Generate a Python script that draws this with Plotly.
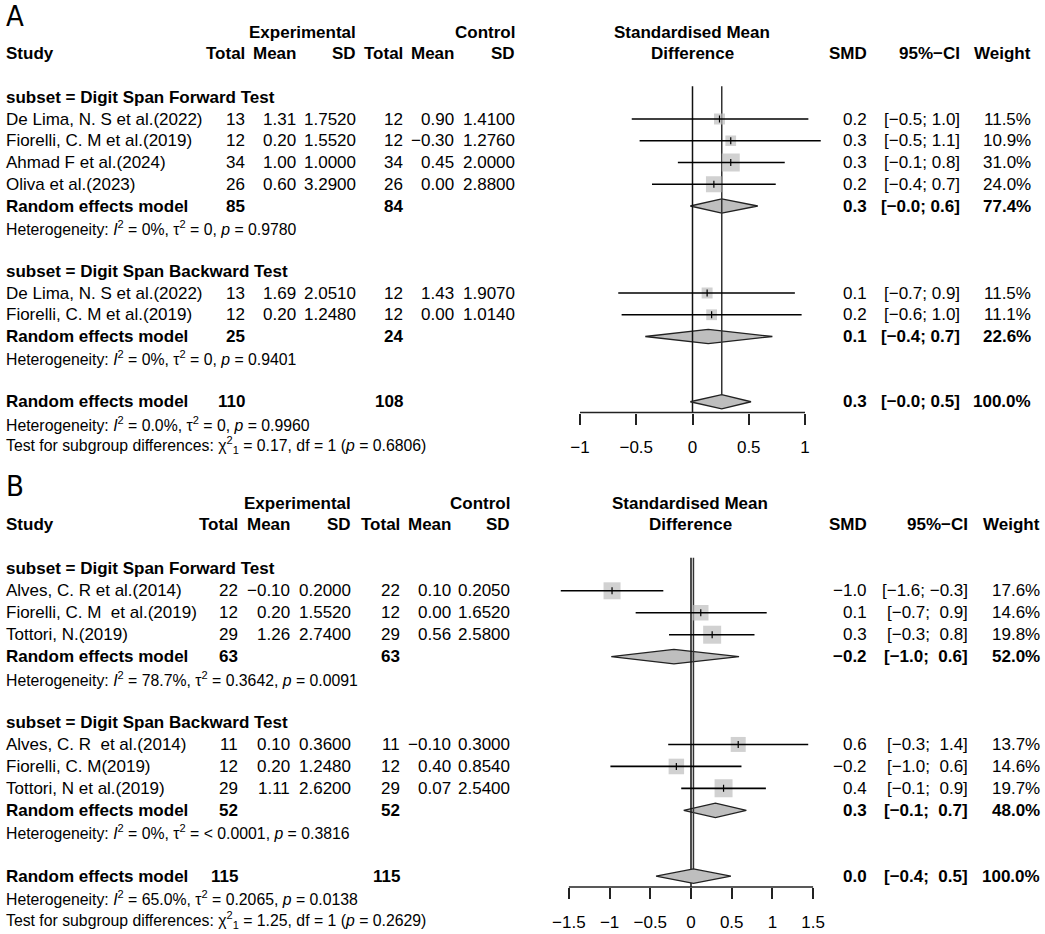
import math
import plotly.graph_objects as go

W, H = 1045, 934
FONT = "Liberation Sans, Arial, sans-serif"

# ---------------- panel A ----------------
A_subsets = ["Digit Span Forward Test", "Digit Span Backward Test"]
A_group = [0, 0, 0, 0, 1, 1]
A_study = ["De Lima, N. S et al.(2022)", "Fiorelli, C. M et al.(2019)",
           "Ahmad F et al.(2024)", "Oliva et al.(2023)",
           "De Lima, N. S et al.(2022)", "Fiorelli, C. M et al.(2019)"]
A_exp_n = [13, 12, 34, 26, 13, 12]
A_exp_mean = [1.31, 0.20, 1.00, 0.60, 1.69, 0.20]
A_exp_sd = [1.7520, 1.5520, 1.0000, 3.2900, 2.0510, 1.2480]
A_ctl_n = [12, 12, 34, 26, 12, 12]
A_ctl_mean = [0.90, -0.30, 0.45, 0.00, 1.43, 0.00]
A_ctl_sd = [1.4100, 1.2760, 2.0000, 2.8800, 1.9070, 1.0140]
A_smd = [0.24, 0.34, 0.34, 0.19, 0.13, 0.17]
A_lo = [-0.54, -0.47, -0.13, -0.36, -0.66, -0.63]
A_hi = [1.03, 1.14, 0.82, 0.74, 0.91, 0.97]
A_weight = [11.5, 10.9, 31.0, 24.0, 11.5, 11.1]
A_sub_smd = [0.26, 0.14]
A_sub_lo = [-0.02, -0.42]
A_sub_hi = [0.58, 0.71]
A_sub_weight = [77.4, 22.6]
A_sub_het = ["Heterogeneity: <i>I</i><sup>2</sup> = 0%, τ<sup>2</sup> = 0, <i>p</i> = 0.9780",
             "Heterogeneity: <i>I</i><sup>2</sup> = 0%, τ<sup>2</sup> = 0, <i>p</i> = 0.9401"]
A_all = [0.26, -0.02, 0.52]
A_all_het = "Heterogeneity: <i>I</i><sup>2</sup> = 0.0%, τ<sup>2</sup> = 0, <i>p</i> = 0.9960"
A_test = "Test for subgroup differences: χ<sup>2</sup><sub>1</sub> = 0.17, df = 1 (<i>p</i> = 0.6806)"
A_ticks = [-1, -0.5, 0, 0.5, 1]

# ---------------- panel B ----------------
B_subsets = ["Digit Span Forward Test", "Digit Span Backward Test"]
B_group = [0, 0, 0, 1, 1, 1]
B_study = ["Alves, C. R et al.(2014)", "Fiorelli, C. M  et al.(2019)", "Tottori, N.(2019)",
           "Alves, C. R  et al.(2014)", "Fiorelli, C. M(2019)", "Tottori, N et al.(2019)"]
B_exp_n = [22, 12, 29, 11, 12, 29]
B_exp_mean = [-0.10, 0.20, 1.26, 0.10, 0.20, 1.11]
B_exp_sd = [0.2000, 1.5520, 2.7400, 0.3600, 1.2480, 2.6200]
B_ctl_n = [22, 12, 29, 11, 12, 29]
B_ctl_mean = [0.10, 0.00, 0.56, -0.10, 0.40, 0.07]
B_ctl_sd = [0.2050, 1.6520, 2.5800, 0.3000, 0.8540, 2.5400]
B_smd = [-0.97, 0.12, 0.26, 0.58, -0.18, 0.40]
B_lo = [-1.60, -0.68, -0.27, -0.28, -0.99, -0.12]
B_hi = [-0.34, 0.93, 0.78, 1.44, 0.62, 0.92]
B_weight = [17.6, 14.6, 19.8, 13.7, 14.6, 19.7]
B_sub_smd = [-0.21, 0.30]
B_sub_lo = [-0.98, -0.09]
B_sub_hi = [0.59, 0.68]
B_sub_weight = [52.0, 48.0]
B_sub_het = ["Heterogeneity: <i>I</i><sup>2</sup> = 78.7%, τ<sup>2</sup> = 0.3642, <i>p</i> = 0.0091",
             "Heterogeneity: <i>I</i><sup>2</sup> = 0%, τ<sup>2</sup> = < 0.0001, <i>p</i> = 0.3816"]
B_all = [0.03, -0.43, 0.49]
B_all_het = "Heterogeneity: <i>I</i><sup>2</sup> = 65.0%, τ<sup>2</sup> = 0.2065, <i>p</i> = 0.0138"
B_test = "Test for subgroup differences: χ<sup>2</sup><sub>1</sub> = 1.25, df = 1 (<i>p</i> = 0.2629)"
B_ticks = [-1.5, -1, -0.5, 0, 0.5, 1, 1.5]


def fmt(v, d):
    return f"{v:.{d}f}".replace("-", "−")


def pad(col):
    # R meta pads positive values when the column holds negatives
    if any(s.startswith("−") for s in col):
        return [s if s.startswith("−") else "\u00a0" + s for s in col]
    return col


def add_diamond(fig, est, lo, hi, row, xa, ya):
    h = 0.33
    fig.add_trace(go.Scatter(x=[lo, est, hi, est, lo], y=[row, row - h, row, row + h, row],
                             mode="lines", fill="toself", fillcolor="#BEBEBE",
                             line=dict(color="#222", width=1.3), xaxis=xa, yaxis=ya))


def draw_panel(fig, p, g, n):
    xa, ya = ("x", "y") if n == 1 else (f"x{n}", f"y{n}")
    rh, row0 = g["rh"], g["row0"]
    top_row, bot_row = -1.0, g["bottom_row"]

    fig.layout[f"yaxis{'' if n == 1 else n}"] = dict(
        domain=[1 - (row0 + rh * bot_row) / H, 1 - (row0 + rh * top_row) / H],
        range=[bot_row, top_row], visible=False, fixedrange=True)
    x_left, x_right = 540, 845
    fig.layout[f"xaxis{'' if n == 1 else n}"] = dict(
        domain=[x_left / W, x_right / W],
        range=[(x_left - g["zero"]) / g["scale"], (x_right - g["zero"]) / g["scale"]],
        anchor="free", position=1 - (row0 + rh * 17.5) / H,
        showgrid=False, zeroline=False, showline=False,
        ticks="outside", ticklen=11, tickwidth=1.5, tickcolor="#222",
        ticklabelstandoff=8,
        tickvals=p["ticks"], tickfont=dict(size=17, family=FONT, color="black"),
        fixedrange=True)

    # all CI strings of the panel, padded together
    los = pad([fmt(v, 1) for v in p["lo"] + p["sub_lo"] + [p["all"][1]]])
    his = pad([fmt(v, 1) for v in p["hi"] + p["sub_hi"] + [p["all"][2]]])
    cis = [f"[{a}; {b}]" for a, b in zip(los, his)]
    ns = len(p["study"])

    c = g["cols"]
    ann = []

    def txt(x, r, s, anchor="right", bold=False, size=17):
        if bold:
            s = f"<b>{s}</b>"
        ann.append(dict(x=x / W, xref="paper", y=r, yref=ya, text=s, showarrow=False,
                        xanchor=anchor, yanchor="middle",
                        font=dict(size=size, family=FONT, color="black")))

    # headers
    txt(c["exp_sd"], 0, "Experimental", bold=True)
    txt(c["ctl_sd"], 0, "Control", bold=True)
    txt(c["forest"], 0, "Standardised Mean", anchor="center", bold=True)
    txt(4, 1, "Study", anchor="left", bold=True)
    for key, lab in [("exp_n", "Total"), ("exp_mean", "Mean"), ("exp_sd", "SD"),
                     ("ctl_n", "Total"), ("ctl_mean", "Mean"), ("ctl_sd", "SD"),
                     ("smd", "SMD"), ("ci", "95%−CI"), ("w", "Weight")]:
        txt(c[key], 1, lab, bold=True)
    txt(c["forest"], 1, "Difference", anchor="center", bold=True)

    sq_x, sq_y, sq_s = [], [], []
    ci_x, ci_y = [], []
    wmax = max(p["weight"])
    r = 3
    for gi, name in enumerate(p["subsets"]):
        idx = [i for i, gg in enumerate(p["group"]) if gg == gi]
        txt(4, r, f"subset = {name}", anchor="left", bold=True)
        for k, i in enumerate(idx):
            rr = r + 1 + k
            txt(4, rr, p["study"][i], anchor="left")
            txt(c["exp_n"], rr, str(p["exp_n"][i]))
            txt(c["exp_mean"], rr, fmt(p["exp_mean"][i], 2))
            txt(c["exp_sd"], rr, fmt(p["exp_sd"][i], 4))
            txt(c["ctl_n"], rr, str(p["ctl_n"][i]))
            txt(c["ctl_mean"], rr, fmt(p["ctl_mean"][i], 2))
            txt(c["ctl_sd"], rr, fmt(p["ctl_sd"][i], 4))
            txt(c["smd"], rr, fmt(p["smd"][i], 1))
            txt(c["ci"], rr, cis[i])
            txt(c["w"], rr, f"{p['weight'][i]:.1f}%")
            sq_x.append(p["smd"][i])
            sq_y.append(rr)
            sq_s.append(18 * math.sqrt(p["weight"][i] / wmax))
            ci_x += [p["lo"][i], p["hi"][i], None]
            ci_y += [rr, rr, None]
        rs = r + 1 + len(idx)
        txt(4, rs, "Random effects model", anchor="left", bold=True)
        txt(c["exp_n"], rs, str(sum(p["exp_n"][i] for i in idx)), bold=True)
        txt(c["ctl_n"], rs, str(sum(p["ctl_n"][i] for i in idx)), bold=True)
        txt(c["smd"], rs, fmt(p["sub_smd"][gi], 1), bold=True)
        txt(c["ci"], rs, cis[ns + gi], bold=True)
        txt(c["w"], rs, f"{p['sub_weight'][gi]:.1f}%", bold=True)
        txt(4, rs + 1, p["sub_het"][gi], anchor="left", size=15.8)
        add_diamond(fig, p["sub_smd"][gi], p["sub_lo"][gi], p["sub_hi"][gi], rs, xa, ya)
        r += len(idx) + 4

    ro = r
    txt(4, ro, "Random effects model", anchor="left", bold=True)
    txt(c["exp_n"], ro, str(sum(p["exp_n"])), bold=True)
    txt(c["ctl_n"], ro, str(sum(p["ctl_n"])), bold=True)
    txt(c["smd"], ro, fmt(p["all"][0], 1), bold=True)
    txt(c["ci"], ro, cis[-1], bold=True)
    txt(c["w"], ro, "100.0%", bold=True)
    txt(4, ro + 1, p["all_het"], anchor="left", size=15.8)
    txt(4, ro + 2, p["test"], anchor="left", size=15.8)

    # reference lines: no effect and overall estimate
    fig.add_trace(go.Scatter(x=[0, 0], y=[2.5, 17.5], mode="lines",
                             line=dict(color="#111", width=1.5), xaxis=xa, yaxis=ya))
    fig.add_trace(go.Scatter(x=[p["all"][0], p["all"][0]], y=[2.5, ro - 0.33], mode="lines",
                             line=dict(color="#333", width=1.5), xaxis=xa, yaxis=ya))
    add_diamond(fig, p["all"][0], p["all"][1], p["all"][2], ro, xa, ya)
    # axis line spans the tick range only
    fig.add_trace(go.Scatter(x=[p["ticks"][0], p["ticks"][-1]], y=[17.5, 17.5], mode="lines",
                             line=dict(color="#222", width=1.5), xaxis=xa, yaxis=ya))

    fig.add_trace(go.Scatter(x=sq_x, y=sq_y, mode="markers", xaxis=xa, yaxis=ya,
                             marker=dict(symbol="square", size=sq_s, color="#BEBEBE",
                                         line=dict(width=0))))
    fig.add_trace(go.Scatter(x=ci_x, y=ci_y, mode="lines", xaxis=xa, yaxis=ya,
                             line=dict(color="#000", width=1.6)))
    fig.add_trace(go.Scatter(x=sq_x, y=sq_y, mode="markers", xaxis=xa, yaxis=ya,
                             marker=dict(symbol="line-ns-open", size=5, color="#000",
                                         line=dict(width=1.2, color="#000"))))

    ann.append(dict(x=4 / W, xref="paper", y=1 - g["label_y"] / H, yref="paper",
                    text=g["label"], showarrow=False, xanchor="left", yanchor="middle",
                    font=dict(size=29, color="black",
                              family="Liberation Sans Narrow, DejaVu Sans Condensed, sans-serif")))
    return ann


A = dict(subsets=A_subsets, group=A_group, study=A_study, exp_n=A_exp_n, exp_mean=A_exp_mean,
         exp_sd=A_exp_sd, ctl_n=A_ctl_n, ctl_mean=A_ctl_mean, ctl_sd=A_ctl_sd, smd=A_smd,
         lo=A_lo, hi=A_hi, weight=A_weight, sub_smd=A_sub_smd, sub_lo=A_sub_lo,
         sub_hi=A_sub_hi, sub_weight=A_sub_weight, sub_het=A_sub_het, all=A_all,
         all_het=A_all_het, test=A_test, ticks=A_ticks)
B = dict(subsets=B_subsets, group=B_group, study=B_study, exp_n=B_exp_n, exp_mean=B_exp_mean,
         exp_sd=B_exp_sd, ctl_n=B_ctl_n, ctl_mean=B_ctl_mean, ctl_sd=B_ctl_sd, smd=B_smd,
         lo=B_lo, hi=B_hi, weight=B_weight, sub_smd=B_sub_smd, sub_lo=B_sub_lo,
         sub_hi=B_sub_hi, sub_weight=B_sub_weight, sub_het=B_sub_het, all=B_all,
         all_het=B_all_het, test=B_test, ticks=B_ticks)

geomA = dict(row0=32, rh=21.75, bottom_row=20.5, zero=692.5, scale=112.5, label="A", label_y=16,
             cols=dict(exp_n=247, exp_mean=298, exp_sd=358, ctl_n=405, ctl_mean=456, ctl_sd=517,
                       smd=869, ci=962, w=1033, forest=692))
geomB = dict(row0=503, rh=21.95, bottom_row=19.6, zero=691, scale=81.4, label="B", label_y=486,
             cols=dict(exp_n=240, exp_mean=292, exp_sd=353, ctl_n=402, ctl_mean=453, ctl_sd=512,
                       smd=869, ci=970, w=1042, forest=690))

fig = go.Figure()
annotations = draw_panel(fig, A, geomA, 1) + draw_panel(fig, B, geomB, 2)

fig.update_layout(width=W, height=H, margin=dict(l=0, r=0, t=0, b=0),
                  paper_bgcolor="white", plot_bgcolor="white", showlegend=False,
                  annotations=annotations, font=dict(family=FONT, color="black"))

# page body margin would push the fixed-size figure off the window
fig.write_html("out.html", config={"displayModeBar": False},
               post_script="document.body.style.margin='0';"
                           "document.body.style.overflow='hidden';")
